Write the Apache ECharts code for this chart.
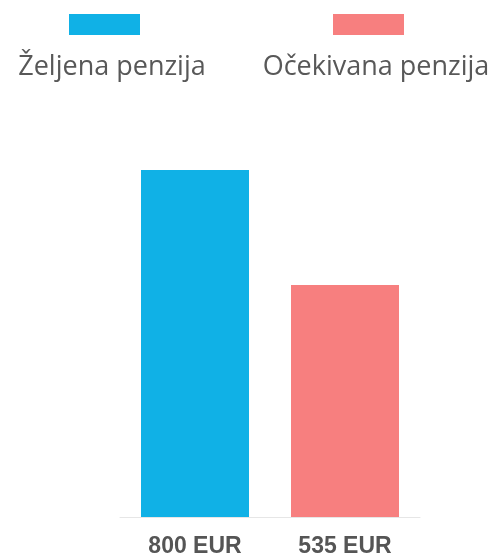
<!DOCTYPE html>
<html>
<head>
<meta charset="utf-8">
<script src="https://cdn.jsdelivr.net/npm/echarts@6/dist/echarts.min.js"></script>
<style>
  html, body { margin: 0; padding: 0; background: #fff; }
  #chart { width: 491px; height: 558px; }
</style>
</head>
<body>
<div id="chart"></div>
<script>
const seriesNames = ['Željena penzija', 'Očekivana penzija']
const values = [800, 535]
const categories = ['800 EUR', '535 EUR']
const colors = ['#10b1e6', '#f77f7f']

const myChart = echarts.init(document.getElementById('chart'))

const nameStyle = { fontFamily: 'Open Sans', fontWeight: 'normal', fontSize: 27, color: '#585858' }

const option = {
  animation: false,
  title: [
    { text: seriesNames[0], left: 107, top: 49, textAlign: 'center', textStyle: nameStyle },
    { text: seriesNames[1], left: 371, top: 49, textAlign: 'center', textStyle: nameStyle },
  ],
  legend: [
    {
      data: [seriesNames[0]],
      left: 69,
      top: 14,
      padding: 0,
      icon: 'rect',
      itemWidth: 71,
      itemHeight: 21,
      formatter: () => '',
      selectedMode: false,
    },
    {
      data: [seriesNames[1]],
      left: 333,
      top: 14,
      padding: 0,
      icon: 'rect',
      itemWidth: 71,
      itemHeight: 21,
      formatter: () => '',
      selectedMode: false,
    },
  ],
  grid: { left: 120, right: 71, top: 170, bottom: 38 },
  xAxis: {
    type: 'category',
    data: categories,
    axisLine: { lineStyle: { color: '#e6e6e6', width: 1 } },
    axisTick: { show: false },
    axisLabel: {
      margin: 18,
      fontFamily: 'Liberation Sans',
      fontWeight: 'bold',
      fontSize: 23,
      color: '#555',
    },
  },
  yAxis: {
    type: 'value',
    min: 0,
    max: 800,
    show: false,
    splitLine: { show: false },
  },
  series: seriesNames.map((name, i) => ({
    name,
    type: 'bar',
    stack: 'total',
    barWidth: '72%',
    itemStyle: { color: colors[i] },
    data: values.map((v, j) => (j === i ? v : '-')),
  })),
}

myChart.setOption(option)
</script>
</body>
</html>
